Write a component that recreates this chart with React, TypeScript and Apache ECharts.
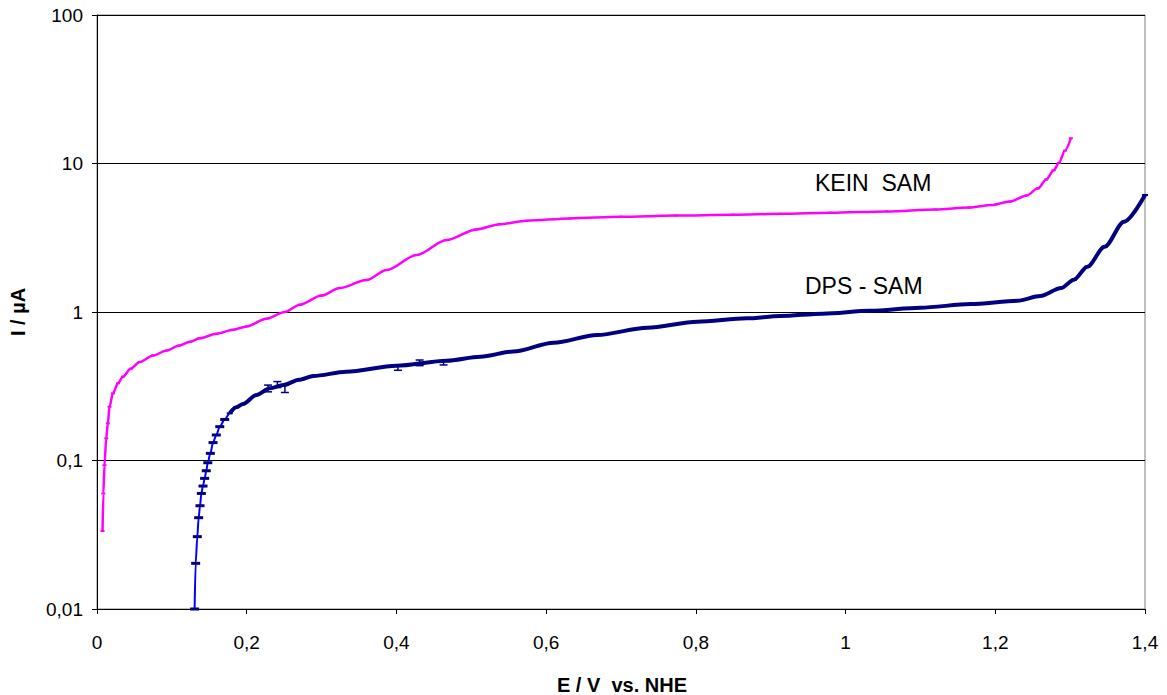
import React, { useEffect, useRef } from "react";
import * as echarts from "echarts";

// KEIN SAM (magenta)
const keinE = [0.0074, 0.0085, 0.0100, 0.0123, 0.0145, 0.0167, 0.0212, 0.028, 0.0345, 0.045, 0.057, 0.075, 0.093, 0.110, 0.124, 0.137, 0.160, 0.182, 0.200, 0.226, 0.251, 0.271, 0.300, 0.324, 0.360, 0.387, 0.427, 0.467, 0.507, 0.538, 0.574, 0.632, 0.700, 0.773, 0.850, 0.914, 0.980, 1.055, 1.120, 1.165, 1.195, 1.220, 1.242, 1.257, 1.268, 1.278, 1.285, 1.293, 1.301];
const keinI = [0.0335, 0.060, 0.093, 0.141, 0.178, 0.230, 0.283, 0.331, 0.367, 0.415, 0.460, 0.510, 0.550, 0.595, 0.630, 0.665, 0.715, 0.760, 0.800, 0.900, 1.00, 1.12, 1.29, 1.45, 1.64, 1.92, 2.42, 3.05, 3.60, 3.90, 4.12, 4.27, 4.38, 4.46, 4.52, 4.58, 4.66, 4.76, 4.90, 5.05, 5.25, 5.55, 6.10, 6.80, 7.80, 9.00, 10.1, 12.2, 14.8];

// DPS - SAM (navy / blue)
const dpsE = [0.1304, 0.1318, 0.1340, 0.1358, 0.1376, 0.1394, 0.1416, 0.1438, 0.1460, 0.1480, 0.1514, 0.1550, 0.1594, 0.1640, 0.1706, 0.1773, 0.1860, 0.1950, 0.2130, 0.2310, 0.2490, 0.2700, 0.2890, 0.3330, 0.4000, 0.4670, 0.5120, 0.5560, 0.6100, 0.6680, 0.7350, 0.8020, 0.8680, 0.9130, 0.9700, 1.0330, 1.1000, 1.1670, 1.2300, 1.2600, 1.2880, 1.3050, 1.3230, 1.3460, 1.3720, 1.4000];
const dpsI = [0.0100, 0.0203, 0.0307, 0.0412, 0.0496, 0.0600, 0.0673, 0.0758, 0.0853, 0.0966, 0.1117, 0.132, 0.1485, 0.169, 0.189, 0.208, 0.228, 0.240, 0.276, 0.306, 0.322, 0.350, 0.371, 0.396, 0.435, 0.470, 0.500, 0.541, 0.621, 0.700, 0.784, 0.860, 0.906, 0.940, 0.975, 1.02, 1.07, 1.13, 1.19, 1.28, 1.45, 1.65, 2.02, 2.75, 4.06, 6.14];
const denseFrom = 0.177;

// error bars on DPS - SAM
const errE = [0.2285, 0.241, 0.251, 0.402, 0.431, 0.463];
const errLow = [0.290, 0.310, 0.287, 0.405, 0.435, 0.440];
const errHigh = [0.322, 0.340, 0.322, 0.435, 0.475, 0.465];

const xMin = 0;
const xMax = 1.4;
const xStep = 0.2;
const yMin = 0.01;
const yMax = 100;

const labelKein = "KEIN  SAM";
const labelDps = "DPS - SAM";
const xTitle = "E / V  vs. NHE";
const yTitle = "I / µA";

const FONT = "Liberation Sans, Arial, Helvetica, sans-serif";

export default function App() {
  const ref = useRef<HTMLDivElement>(null);
  useEffect(() => {
    if (!ref.current) return;
    const chart = echarts.init(ref.current, undefined, { renderer: "svg" });
    const kein = keinE.map((e, i) => [e, keinI[i]]);
    const dps = dpsE.map((e, i) => ({
      value: [e, dpsI[i]],
      symbolSize: e >= denseFrom ? [6, 2] : [9, 3],
    }));
    const dense = dpsE.map((e, i) => [e, dpsI[i]]).filter((d) => d[0] >= denseFrom);
    const errs = errE.map((e, i) => [e, errLow[i], errHigh[i]]);
    chart.setOption({
      animation: false,
      backgroundColor: "#ffffff",
      grid: {
        left: 97,
        right: 22,
        top: 15,
        bottom: 86,
        show: true,
        borderColor: "#808080",
        borderWidth: 1,
        backgroundColor: "transparent",
      },
      xAxis: {
        type: "value",
        min: xMin,
        max: xMax,
        interval: xStep,
        axisLine: { show: true, onZero: false, lineStyle: { color: "#000", width: 1 } },
        axisTick: { show: true, inside: false, length: 5, lineStyle: { color: "#000" } },
        splitLine: { show: false },
        axisLabel: {
          color: "#000",
          fontFamily: FONT,
          fontSize: 19,
          margin: 24,
          formatter: (v: number) => String(Math.round(v * 10) / 10).replace(".", ","),
        },
      },
      yAxis: {
        type: "log",
        logBase: 10,
        min: yMin,
        max: yMax,
        axisLine: { show: true, lineStyle: { color: "#000", width: 1 } },
        axisTick: { show: true, inside: false, length: 5, lineStyle: { color: "#000" } },
        minorTick: { show: false },
        splitLine: { show: true, lineStyle: { color: "#000", width: 1 } },
        axisLabel: {
          color: "#000",
          fontFamily: FONT,
          fontSize: 19,
          margin: 14,
          formatter: (v: number) => (v >= 1 ? String(Math.round(v)) : Number(v.toPrecision(1)).toString().replace(".", ",")),
        },
      },
      graphic: [
        {
          type: "text",
          x: 815,
          y: 183,
          style: { text: labelKein, fill: "#000", font: `23px ${FONT}`, align: "left", verticalAlign: "middle" },
        },
        {
          type: "text",
          x: 805,
          y: 286,
          style: { text: labelDps, fill: "#000", font: `23px ${FONT}`, align: "left", verticalAlign: "middle" },
        },
        {
          type: "text",
          x: 622,
          y: 685,
          style: { text: xTitle, fill: "#000", font: `bold 20px ${FONT}`, align: "center", verticalAlign: "middle" },
        },
        {
          type: "text",
          x: 18,
          y: 312,
          rotation: Math.PI / 2,
          style: { text: yTitle, fill: "#000", font: `bold 20px ${FONT}`, align: "center", verticalAlign: "middle" },
        },
      ],
      series: [
        {
          name: "KEIN SAM",
          type: "line",
          data: kein,
          smooth: 0.3,
          smoothMonotone: "x",
          lineStyle: { color: "#ff00ff", width: 2.5 },
          itemStyle: { color: "#ff00ff" },
          symbol: "rect",
          symbolSize: [4, 2],
          showSymbol: true,
          showAllSymbol: true,
          z: 3,
        },
        {
          name: "DPS - SAM",
          type: "line",
          data: dps,
          smooth: 0.3,
          smoothMonotone: "x",
          lineStyle: { color: "#0000ff", width: 2 },
          itemStyle: { color: "#000080" },
          symbol: "rect",
          showSymbol: true,
          showAllSymbol: true,
          z: 4,
        },
        {
          name: "DPS - SAM dense",
          type: "line",
          data: dense,
          smooth: 0.3,
          smoothMonotone: "x",
          lineStyle: { color: "#000080", width: 4 },
          showSymbol: false,
          symbol: "none",
          z: 5,
        },
        {
          name: "DPS - SAM err",
          type: "custom",
          data: errs,
          z: 6,
          renderItem: (params: any, api: any) => {
            const x = api.value(0);
            const lo = api.coord([x, api.value(1)]);
            const hi = api.coord([x, api.value(2)]);
            const st = { stroke: "#000080", lineWidth: 1.5 };
            return {
              type: "group",
              children: [
                { type: "line", shape: { x1: lo[0], y1: lo[1], x2: hi[0], y2: hi[1] }, style: st },
                { type: "line", shape: { x1: lo[0] - 4, y1: lo[1], x2: lo[0] + 4, y2: lo[1] }, style: st },
                { type: "line", shape: { x1: hi[0] - 4, y1: hi[1], x2: hi[0] + 4, y2: hi[1] }, style: st },
              ],
            };
          },
        },
      ],
    });
    return () => chart.dispose();
  }, []);
  return (
    <div
      ref={ref}
      style={{ position: "fixed", left: 0, top: 0, width: 1167, height: 695, background: "#fff" }}
    />
  );
}
